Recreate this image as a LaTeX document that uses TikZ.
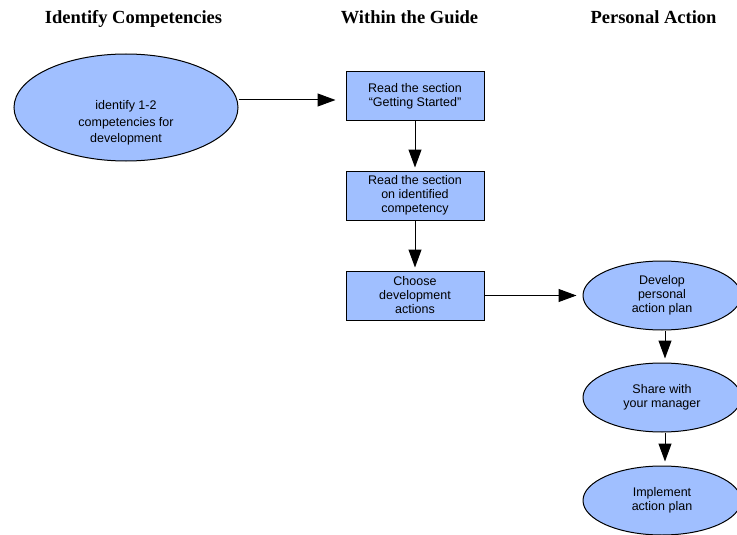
\documentclass[tikz,border=0pt]{standalone}
\usepackage{fontspec}
\setmainfont{Liberation Serif}
\newfontfamily\boxfont{Liberation Sans}
\usepackage{tikz}
\usetikzlibrary{shapes.geometric,arrows.meta,calc}
\usepackage{xcolor}
\definecolor{FillBlue}{HTML}{A0BFFF}

\begin{document}
\begin{tikzpicture}[x=1pt,y=-1pt,
   heading/.style={anchor=base,inner sep=0pt,font=\fontsize{18.5}{22}\selectfont\bfseries},
   txt/.style={align=center,inner sep=0pt,font=\boxfont\fontsize{12.5}{14}\selectfont},
   stepbox/.style={txt,draw=black,line width=1pt,fill=FillBlue,
      minimum width=138pt,minimum height=49pt},
   bubble/.style={txt,ellipse,draw=black,line width=1pt,fill=FillBlue,
      minimum width=158pt,minimum height=69pt},
   arr/.style={line width=1pt,-{Triangle[length=18pt,width=13pt]}}]
   \clip (0,0) rectangle (737,535);

   \node[heading] (h1) at (133.5,24) {Identify Competencies};
   \node[heading] (h2) at (409.5,24) {Within the Guide};
   \node[heading] (h3) at (653.5,24) {Personal Action};

   \node[bubble,minimum width=224pt,minimum height=107pt,
      label={[txt,font=\boxfont\fontsize{12.5}{16.3}\selectfont,yshift=-15.5pt]center:identify 1-2\\competencies for\\development}]
      (e1) at (126,107.5) {};

   \node[stepbox] (b1) at (415,96) {Read the section\\“Getting Started”};
   \node[stepbox] (b2) at (415,195.5) {Read the section\\on identified\\competency};
   \node[stepbox] (b3) at (415,295.5) {Choose\\development\\actions};

   \node[bubble] (e2) at (662,295.5) {Develop\\personal\\action plan};
   \node[bubble] (e3) at (662,397.5) {Share with\\your manager};
   \node[bubble] (e4) at (662,500.5) {Implement\\action plan};

   \draw[arr,shorten >=10pt] ([yshift=7.5pt]e1.east) -- ([yshift=-4pt]b1.west);
   \draw[arr,shorten >=3pt] (b1.south) -- (b2.north);
   \draw[arr,shorten >=3pt] (b2.south) -- (b3.north);
   \draw[arr,shorten >=6pt] (b3.east) -- (e2.west);
   \draw[arr,shorten >=4pt] ([xshift=3pt]e2.south) -- ([xshift=3pt]e3.north);
   \draw[arr,shorten >=4pt] ([xshift=3pt]e3.south) -- ([xshift=3pt]e4.north);
\end{tikzpicture}
\end{document}
